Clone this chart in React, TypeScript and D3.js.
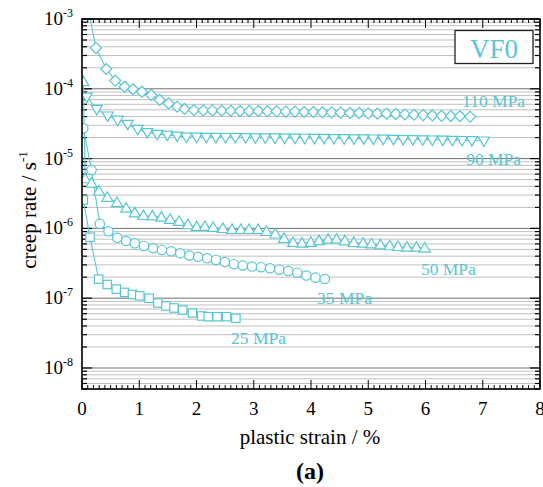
import React from 'react';
import * as d3 from 'd3';

const W = 543;
const H = 487;
const COLOR = '#58C5D2';
const FONT = '"Liberation Serif", "Times New Roman", serif';

// ---- data ----
const strain110 = [0.1, 0.244, 0.424, 0.581, 0.745, 0.89, 1.047, 1.209, 1.356, 1.513, 1.663, 1.792, 1.955,
  2.12, 2.28, 2.44, 2.6, 2.76, 2.92, 3.08, 3.24, 3.4, 3.56, 3.72, 3.88, 4.04, 4.2, 4.36, 4.52, 4.68, 4.84, 5.0,
  5.16, 5.32, 5.48, 5.64, 5.8, 5.96, 6.12, 6.28, 6.44, 6.6, 6.78];
const rate110 = [1.5e-3, 3.85e-4, 1.92e-4, 1.31e-4, 1.07e-4, 9.84e-5, 9.08e-5, 8.15e-5, 6.92e-5, 6.19e-5, 5.55e-5, 5.14e-5, 4.96e-5,
  4.9e-5, 4.9e-5, 4.85e-5, 4.85e-5, 4.8e-5, 4.8e-5, 4.8e-5, 4.75e-5, 4.75e-5, 4.7e-5, 4.7e-5, 4.65e-5, 4.65e-5, 4.6e-5, 4.6e-5, 4.55e-5, 4.5e-5, 4.5e-5, 4.45e-5,
  4.4e-5, 4.4e-5, 4.35e-5, 4.3e-5, 4.25e-5, 4.2e-5, 4.15e-5, 4.1e-5, 4.07e-5, 4.04e-5, 4.0e-5];

const strain90 = [0.084, 0.258, 0.449, 0.623, 0.798, 0.972, 1.14, 1.314, 1.489, 1.663, 1.824, 2.002,
  2.17, 2.34, 2.51, 2.68, 2.86, 3.03, 3.2, 3.37, 3.54, 3.72, 3.89, 4.06, 4.23, 4.4, 4.58, 4.75, 4.92, 5.09,
  5.26, 5.44, 5.61, 5.78, 5.95, 6.12, 6.3, 6.47, 6.64, 6.81, 7.02];
const rate90 = [7.64e-5, 5.11e-5, 4.1e-5, 3.57e-5, 3.11e-5, 2.64e-5, 2.37e-5, 2.24e-5, 2.18e-5, 2.11e-5, 2.04e-5, 2.04e-5,
  2.03e-5, 2.03e-5, 2.02e-5, 2.02e-5, 2.01e-5, 2.0e-5, 2.0e-5, 1.99e-5, 1.98e-5, 1.98e-5, 1.97e-5, 1.96e-5, 1.96e-5, 1.95e-5, 1.94e-5, 1.93e-5, 1.93e-5, 1.92e-5,
  1.91e-5, 1.9e-5, 1.89e-5, 1.88e-5, 1.87e-5, 1.86e-5, 1.85e-5, 1.84e-5, 1.83e-5, 1.82e-5, 1.8e-5];

const strain50 = [0.023, 0.056, 0.166, 0.297, 0.442, 0.611, 0.771, 0.921, 1.073, 1.23, 1.387, 1.539, 1.696, 1.85, 2.002,
  2.147, 2.291, 2.461, 2.621, 2.775, 2.918, 3.077, 3.223, 3.377, 3.529, 3.688, 3.843, 3.997, 4.14, 4.298, 4.445,
  4.59, 4.747, 4.909, 5.056, 5.213, 5.375, 5.52, 5.677, 5.841, 5.986];
const rate50 = [1.26e-4, 5.11e-6, 4.43e-6, 3.41e-6, 2.77e-6, 2.33e-6, 1.94e-6, 1.66e-6, 1.52e-6, 1.5e-6, 1.44e-6, 1.34e-6, 1.25e-6, 1.12e-6, 1.05e-6,
  1.06e-6, 1.03e-6, 9.9e-7, 9.58e-7, 9.58e-7, 9.58e-7, 9.58e-7, 8.97e-7, 8.26e-7, 7.12e-7, 6.24e-7, 6.12e-7, 6.28e-7, 6.64e-7, 6.98e-7, 6.98e-7,
  6.6e-7, 6.24e-7, 6.12e-7, 5.98e-7, 5.78e-7, 5.6e-7, 5.47e-7, 5.36e-7, 5.36e-7, 5.19e-7];

const strain35 = [0.023, 0.166, 0.311, 0.462, 0.616, 0.771, 0.921, 1.082, 1.243, 1.396, 1.557, 1.716, 1.876, 2.03,
  2.187, 2.339, 2.496, 2.653, 2.81, 2.97, 3.127, 3.284, 3.447, 3.604, 3.761, 3.918, 4.079, 4.241];
const rate35 = [2.72e-5, 6.87e-6, 1.16e-6, 9.08e-7, 7.33e-7, 6.59e-7, 6.12e-7, 5.6e-7, 5.19e-7, 4.91e-7, 4.7e-7, 4.4e-7, 4.09e-7, 3.92e-7,
  3.73e-7, 3.53e-7, 3.3e-7, 3.07e-7, 2.94e-7, 2.84e-7, 2.78e-7, 2.68e-7, 2.56e-7, 2.45e-7, 2.32e-7, 2.11e-7, 1.97e-7, 1.88e-7];

const strain25 = [0.023, 0.14, 0.291, 0.442, 0.599, 0.745, 0.881, 1.009, 1.173, 1.326, 1.466, 1.606, 1.759, 1.928,
  2.089, 2.204, 2.361, 2.525, 2.688];
const rate25 = [2.55e-6, 7.45e-7, 1.87e-7, 1.57e-7, 1.35e-7, 1.21e-7, 1.13e-7, 1.08e-7, 9.97e-8, 8.54e-8, 7.73e-8, 7.24e-8, 6.78e-8, 6.14e-8,
  5.56e-8, 5.43e-8, 5.43e-8, 5.43e-8, 5.15e-8];

const seriesNames = ['110 MPa', '90 MPa', '50 MPa', '35 MPa', '25 MPa'];
const seriesShapes = ['diamond', 'triangleDown', 'triangleUp', 'circle', 'square'];
const xTickValues = [0, 1, 2, 3, 4, 5, 6, 7, 8];
const yDecades = [-3, -4, -5, -6, -7, -8];
const panelTitle = 'VF0';
const panelLetter = '(a)';

// label anchor data (strain, rate) for the series labels
const labelStrain = [7.19, 7.19, 6.4, 4.585, 3.083];
const labelRate = [5.5e-5, 8.1e-6, 2.15e-7, 8.26e-8, 2.21e-8];

const plot = { left: 82, right: 540, top: 19, bottom: 389 };

export default function App() {
  const x = d3.scaleLinear().domain([0, 8]).range([plot.left, plot.right]);
  const y = d3.scaleLog().domain([5e-9, 1e-3]).range([plot.bottom, plot.top]);

  const series = [
    { s: strain110, r: rate110 },
    { s: strain90, r: rate90 },
    { s: strain50, r: rate50 },
    { s: strain35, r: rate35 },
    { s: strain25, r: rate25 },
  ].map((d, i) => ({
    name: seriesNames[i],
    shape: seriesShapes[i],
    pts: d.s.map((v, j) => [v, d.r[j]] as [number, number]),
  }));

  const line = d3.line<[number, number]>().x(d => x(d[0])).y(d => y(d[1]));

  const grid: { v: number; major: boolean }[] = [];
  for (let d = -9; d <= -3; d++) {
    for (let k = 1; k <= 9; k++) {
      const v = k * Math.pow(10, d);
      if (v >= 5e-9 * 0.999 && v <= 1e-3 * 1.001) grid.push({ v, major: k === 1 });
    }
  }
  const xMinor = d3.range(0, 80.5, 1).map(i => i / 10);

  const marker = (shape: string, cx: number, cy: number, key: string) => {
    const common = { fill: 'white', stroke: COLOR, strokeWidth: 1.2, key };
    if (shape === 'circle') return <circle cx={cx} cy={cy} r={4.7} {...common} />;
    if (shape === 'square') return <rect x={cx - 4.2} y={cy - 4.2} width={8.4} height={8.4} {...common} />;
    if (shape === 'diamond') {
      const r = 5.5;
      return <path d={`M${cx},${cy - r}L${cx + r},${cy}L${cx},${cy + r}L${cx - r},${cy}Z`} {...common} />;
    }
    const h = 9.5, w = 11;
    if (shape === 'triangleUp') {
      return <path d={`M${cx},${cy - h * 0.6}L${cx + w / 2},${cy + h * 0.4}L${cx - w / 2},${cy + h * 0.4}Z`} {...common} />;
    }
    return <path d={`M${cx},${cy + h * 0.6}L${cx + w / 2},${cy - h * 0.4}L${cx - w / 2},${cy - h * 0.4}Z`} {...common} />;
  };

  return (
    <svg width={W} height={H} style={{ position: 'absolute', left: 0, top: 0, background: 'white' }} fontFamily={FONT}>
      <defs>
        <clipPath id="plotClip">
          <rect x={plot.left} y={plot.top} width={plot.right - plot.left} height={plot.bottom - plot.top} />
        </clipPath>
      </defs>
      <rect x={0} y={0} width={W} height={H} fill="white" />
      {grid.map((g, i) => (
        <line key={'g' + i} x1={plot.left} x2={plot.right} y1={y(g.v)} y2={y(g.v)}
          stroke={g.major ? '#707070' : '#c0c0c0'} strokeWidth={1} />
      ))}
      {grid.map((g, i) => {
        const len = g.major ? 10 : 5;
        const yy = y(g.v);
        return (
          <g key={'yt' + i} stroke="black" strokeWidth={1.2}>
            <line x1={plot.left} x2={plot.left + len} y1={yy} y2={yy} />
            <line x1={plot.right} x2={plot.right - len} y1={yy} y2={yy} />
          </g>
        );
      })}
      {xMinor.map((v, i) => {
        const major = Math.abs(v - Math.round(v)) < 1e-6;
        const len = major ? 9 : 4;
        const xx = x(v);
        return (
          <g key={'xt' + i} stroke="black" strokeWidth={1}>
            <line x1={xx} x2={xx} y1={plot.top} y2={plot.top + len} />
            <line x1={xx} x2={xx} y1={plot.bottom} y2={plot.bottom - len} />
          </g>
        );
      })}
      <g clipPath="url(#plotClip)">
        {series.map(s => (
          <path key={'l' + s.name} d={line(s.pts) || ''} fill="none" stroke={COLOR} strokeWidth={1.1} />
        ))}
        {series.map(s => s.pts.map((p, j) => marker(s.shape, x(p[0]), y(p[1]), s.name + j)))}
      </g>
      <rect x={plot.left} y={plot.top} width={plot.right - plot.left} height={plot.bottom - plot.top}
        fill="none" stroke="black" strokeWidth={1.6} />
      {series.map((s, i) => (
        <text key={'lab' + i} x={x(labelStrain[i])} y={y(labelRate[i])} fill={COLOR} fontSize={17.5}
          textAnchor="middle">{s.name}</text>
      ))}
      <rect x={455} y={30.5} width={78} height={33} fill="white" stroke="#222" strokeWidth={1.3} />
      <text x={494} y={57.5} fill={COLOR} fontSize={27} textAnchor="middle">{panelTitle}</text>
      {yDecades.map(d => (
        <text key={'yl' + d} x={73} y={y(Math.pow(10, d)) + 6} textAnchor="end" fontSize={19} fill="black">
          10<tspan fontSize={12} dy={-8}>{d}</tspan>
        </text>
      ))}
      {xTickValues.map(v => (
        <text key={'xl' + v} x={x(v)} y={415} textAnchor="middle" fontSize={19} fill="black">{v}</text>
      ))}
      <text x={310} y={444} textAnchor="middle" fontSize={21} fill="black">plastic strain / %</text>
      <text transform={`translate(36, 210) rotate(-90)`} textAnchor="middle" fontSize={21} fill="black">
        creep rate / s<tspan fontSize={13} dy={-9}>-1</tspan>
      </text>
      <text x={310} y={479} textAnchor="middle" fontSize={24} fontWeight="bold" fill="black">{panelLetter}</text>
    </svg>
  );
}
